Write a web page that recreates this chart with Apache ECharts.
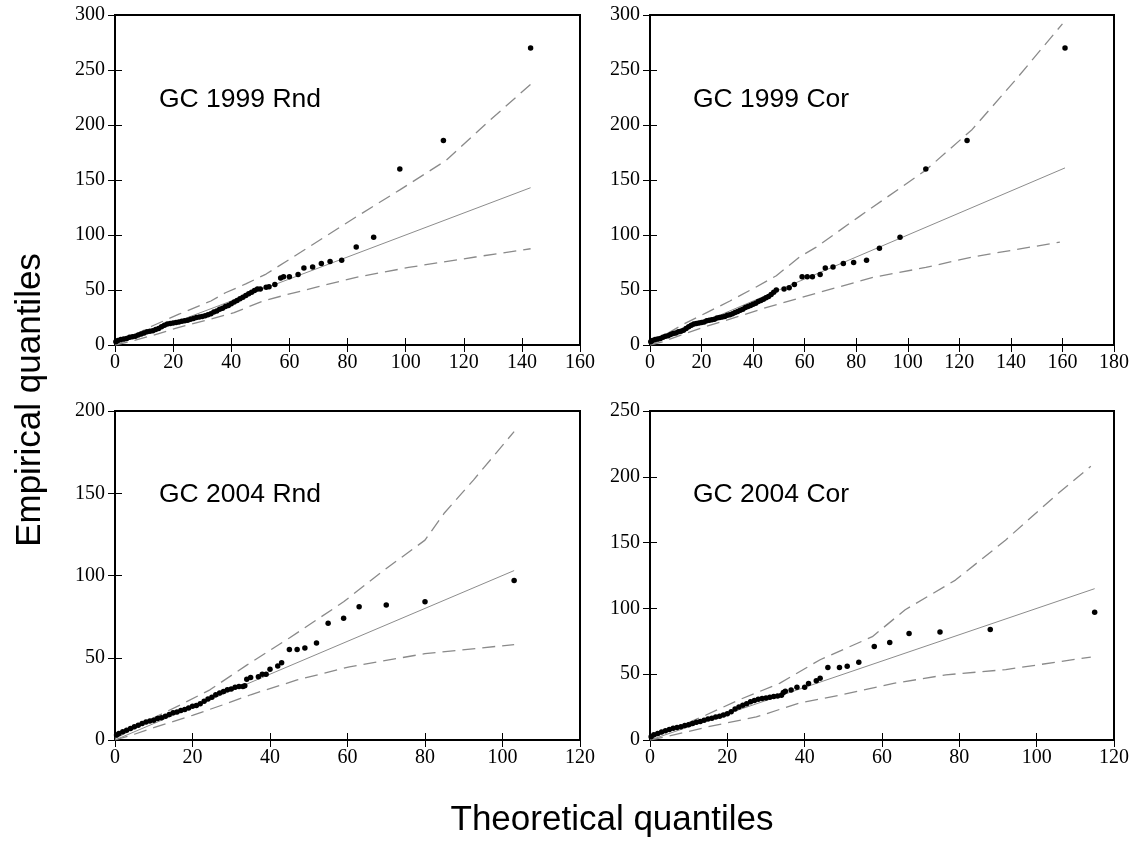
<!DOCTYPE html>
<html>
<head>
<meta charset="utf-8">
<script src="https://cdn.jsdelivr.net/npm/echarts@6/dist/echarts.min.js"></script>
<style>
  html, body { margin: 0; padding: 0; background: #fff; }
  #main { width: 1132px; height: 841px; }
</style>
</head>
<body>
<div id="main"></div>
<script>
// panel labels
var panelNames = ['GC 1999 Rnd', 'GC 1999 Cor', 'GC 2004 Rnd', 'GC 2004 Cor'];

// axis ranges (max) for each panel, x and y
var xMaxes = [160, 180, 120, 120];
var yMaxes = [300, 300, 200, 250];

// GC 1999 Rnd : [theoretical, empirical]
var rnd1999Pts = [[0.3,3],[1,4],[2,5],[3,5.5],[4,6],[5,7],[6,7.5],[7,8],[8,9],[9,10],[10,11],[11,12],[12,12.5],[13,13],[14,14],[15,15],[16,16.5],[17,18],[18,19],[19,19.5],[20,20],[21,20.5],[22,21],[23,21.5],[24,22],[25,22.5],[26,23.5],[27,24],[28,25],[29,25.5],[30,26],[31,26.5],[32,27.5],[33,28.5],[34,30],[35,31],[36,32.5],[37,33.5],[38,35],[39,36],[40,37.5],[41,39],[42,40.5],[43,42],[44,43.5],[45,45],[46,46.5],[47,48],[48,49.5],[49,51],[50,51],[52,52.5],[53,53],[55,55],[57,61],[58,62],[60,62],[63,64],[65,70],[68,71],[71,74],[74,76],[78,77],[83,89],[89,98],[98,160],[113,186],[143,270]];
var rnd1999Upper = [[0,1],[5,7],[13,17.5],[22,28],[33,40],[38,47.5],[45,55.5],[52,64.5],[64,84.5],[83,116.5],[98,141],[114,168],[128,202],[143,237]];
var rnd1999Lower = [[0,0],[5,3],[12,8],[22,16],[33,23.5],[41,29.5],[51,40],[58,45],[70,53],[83,61.5],[101,70.5],[124,80],[143,87.5]];
var rnd1999Ref = [[0,0],[143,143]];

// GC 1999 Cor
var cor1999Pts = [[0.3,3],[1,4],[2,5],[3,5.5],[4,6],[5,7],[6,8],[7,8.5],[8,9.5],[9,10.5],[10,11],[11,12],[12,12.5],[13,13.5],[14,15],[15,16.5],[16,18],[17,19],[18,19.5],[19,20],[20,20.5],[21,21],[22,22],[23,22.5],[24,23],[25,23.5],[26,24.5],[27,25],[28,25.5],[29,26],[30,27],[31,27.5],[32,28.5],[33,29.5],[34,30.5],[35,31.5],[36,32.5],[37,34],[38,35],[39,36],[40,37],[41,38],[42,39.5],[43,40.5],[44,41.5],[45,43],[46,44],[47,46],[48,48],[49,50],[52,51],[54,52],[56,55],[59,62],[61,62],[63,62],[66,64],[68,70],[71,71],[75,74],[79,75],[84,77],[89,88],[97,98],[107,160],[123,186],[161,270]];
var cor1999Upper = [[0,1],[5,8],[13,19],[22,29.5],[31,40],[41,52.5],[49,63],[58,80],[64.5,89],[81,116.5],[107,159],[125,196],[142,241.5],[160,292]];
var cor1999Lower = [[0,0],[5,3],[12,9],[22,17],[35,26.5],[45,34],[66,48],[86.5,61.5],[107,70.5],[125,80],[159,93.5]];
var cor1999Ref = [[0,0],[161,161]];

// GC 2004 Rnd
var rnd2004Pts = [[0.4,3],[1,4],[2,5],[3,6],[4,7],[5,8],[6,9],[7,10],[8,11],[9,11.5],[10,12],[11,13],[12,13.5],[13,14.5],[14,15.5],[15,16.5],[16,17],[17,18],[18,18.5],[19,19.5],[20,20.5],[21,21],[22,22],[23,23.5],[24,25],[25,26],[26,27.5],[27,28.5],[28,29.5],[29,30.5],[30,31],[31,32],[32,32.5],[33,32.5],[33.5,33],[34,37],[35,38],[37,38.5],[38,40],[39,40],[40,43],[42,45],[43,47],[45,55],[47,55],[49,56],[52,59],[55,71],[59,74],[63,81],[70,82],[80,84],[103,97]];
var rnd2004Upper = [[0,1],[5,7],[10,13.5],[17,21.5],[24.5,30.5],[34,45.5],[45,62],[59,84],[69,102.5],[80,121.5],[85,138],[92.5,158],[103,187.5]];
var rnd2004Lower = [[0,0],[5,3.5],[10,7.5],[20,15],[28,21.5],[35,27.5],[47,36.5],[60.5,44.5],[80,52.5],[103,58]];
var rnd2004Ref = [[0,0],[103,103]];

// GC 2004 Cor
var cor2004Pts = [[0.3,2.5],[1,4],[2,5],[3,6],[4,7],[5,8],[6,9],[7,9.5],[8,10],[9,11],[10,11.5],[11,12.5],[12,13.5],[13,14],[14,15],[15,16],[16,16.5],[17,17.5],[18,18],[19,19],[20,20],[21,21.5],[22,23.5],[23,25],[24,26.5],[25,27.5],[26,29],[27,30],[28,31],[29,31.5],[30,32],[31,32.5],[32,33],[33,33.5],[34,34],[34.5,36],[35,37],[36.5,38],[38,40],[40,40],[41,43],[43,45],[44,47],[46,55],[49,55],[51,56],[54,59],[58,71],[62,74],[67,81],[75,82],[88,84],[115,97]];
var cor2004Upper = [[0,1],[5,7],[14.5,19],[23,30.5],[33.5,43],[44,61],[57.5,78.5],[66,99],[79,121.5],[92,152],[105,186],[114,208]];
var cor2004Lower = [[0,0],[5,3],[15,10],[27.5,17.5],[38.5,28],[49,34],[63,43],[76.5,49.5],[92,53.5],[114,63]];
var cor2004Ref = [[0,0],[115,115]];

var allPts = [rnd1999Pts, cor1999Pts, rnd2004Pts, cor2004Pts];
var allUpper = [rnd1999Upper, cor1999Upper, rnd2004Upper, cor2004Upper];
var allLower = [rnd1999Lower, cor1999Lower, rnd2004Lower, cor2004Lower];
var allRef = [rnd1999Ref, cor1999Ref, rnd2004Ref, cor2004Ref];

// layout of the 4 plots
var boxes = [
  {left: 115, top: 15, width: 465, height: 330},
  {left: 650, top: 15, width: 465, height: 330},
  {left: 115, top: 411, width: 465, height: 329},
  {left: 650, top: 411, width: 465, height: 329}
];

var tickFont = {fontFamily: 'Liberation Serif', fontSize: 20, color: '#000'};

var grids = [], xAxes = [], yAxes = [], series = [], graphics = [];

for (var i = 0; i < 4; i++) {
  var b = boxes[i];
  grids.push({left: b.left, top: b.top, width: b.width, height: b.height,
    show: true, borderColor: '#000', borderWidth: 2, backgroundColor: '#fff'});

  var tick = {show: true, inside: true, length: 7, lineStyle: {color: '#000', width: 1}};
  // bottom + top x axes
  xAxes.push({type: 'value', gridIndex: i, min: 0, max: xMaxes[i], interval: 20, position: 'bottom',
    axisLine: {show: false}, axisTick: tick, splitLine: {show: false},
    axisLabel: Object.assign({margin: 8, showMinLabel: true, showMaxLabel: true}, tickFont)});
  xAxes.push({type: 'value', gridIndex: i, min: 0, max: xMaxes[i], interval: 20, position: 'top',
    axisLine: {show: false}, axisTick: tick, splitLine: {show: false}, axisLabel: {show: false}});
  // left + right y axes
  yAxes.push({type: 'value', gridIndex: i, min: 0, max: yMaxes[i], interval: 50, position: 'left',
    axisLine: {show: false}, axisTick: tick, splitLine: {show: false},
    axisLabel: Object.assign({margin: 10, showMinLabel: true, showMaxLabel: true}, tickFont)});
  yAxes.push({type: 'value', gridIndex: i, min: 0, max: yMaxes[i], interval: 50, position: 'right',
    axisLine: {show: false}, axisTick: tick, splitLine: {show: false}, axisLabel: {show: false}});

  var xi = i * 2, yi = i * 2;
  series.push({type: 'line', xAxisIndex: xi, yAxisIndex: yi, data: allUpper[i], symbol: 'none',
    lineStyle: {color: '#8a8a8a', width: 1.3, type: [13, 7]}, z: 2, silent: true});
  series.push({type: 'line', xAxisIndex: xi, yAxisIndex: yi, data: allLower[i], symbol: 'none',
    lineStyle: {color: '#8a8a8a', width: 1.3, type: [13, 7]}, z: 2, silent: true});
  series.push({type: 'line', xAxisIndex: xi, yAxisIndex: yi, data: allRef[i], symbol: 'none',
    lineStyle: {color: '#8c8c8c', width: 1}, z: 2, silent: true});
  series.push({type: 'scatter', xAxisIndex: xi, yAxisIndex: yi, data: allPts[i],
    symbol: 'circle', symbolSize: 5.5, itemStyle: {color: '#000', opacity: 1}, z: 3, silent: true});

  graphics.push({type: 'text', x: (i % 2 === 0) ? 159 : 693, y: (i < 2) ? 100 : 495,
    style: {text: panelNames[i], font: '26.5px "Liberation Sans", Arial, sans-serif', fill: '#000',
      align: 'left', verticalAlign: 'middle'}});
}

graphics.push({type: 'text', x: 30, y: 400, rotation: Math.PI / 2,
  style: {text: 'Empirical quantiles', font: '35px "Liberation Sans", Arial, sans-serif', fill: '#000',
    align: 'center', verticalAlign: 'middle'}});
graphics.push({type: 'text', x: 612, y: 820,
  style: {text: 'Theoretical quantiles', font: '35px "Liberation Sans", Arial, sans-serif', fill: '#000',
    align: 'center', verticalAlign: 'middle'}});

var myChart = echarts.init(document.getElementById('main'));
var option = {
  animation: false,
  backgroundColor: '#fff',
  grid: grids,
  xAxis: xAxes,
  yAxis: yAxes,
  series: series,
  graphic: graphics
};
myChart.setOption(option);
</script>
</body>
</html>
